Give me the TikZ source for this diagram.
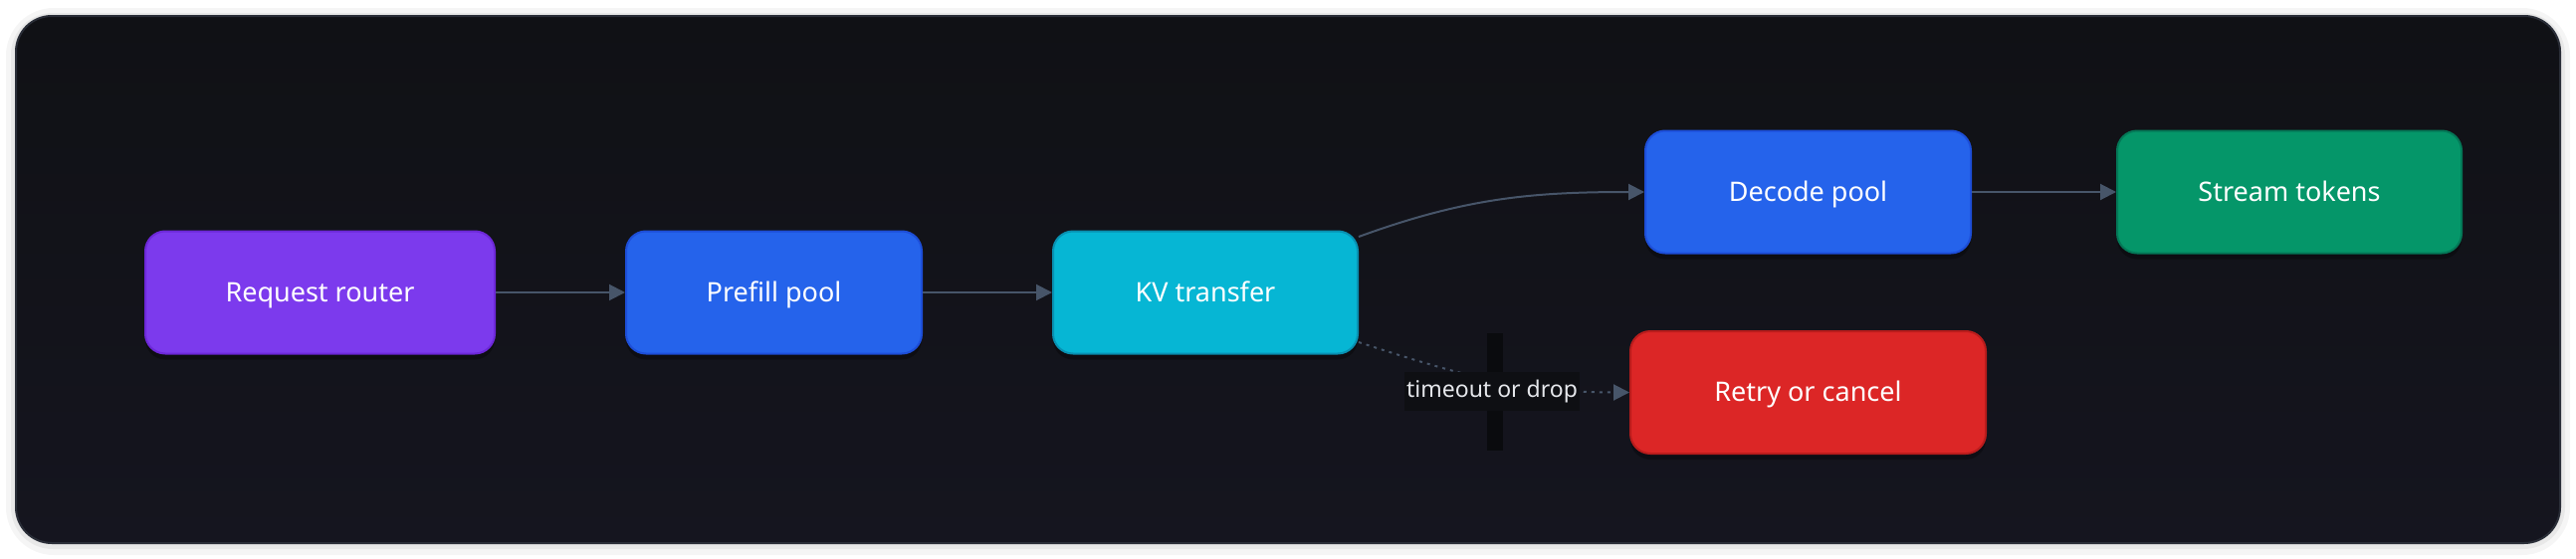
\documentclass[tikz,border=0pt]{standalone}
\usepackage{fontspec}
\setmainfont{Noto Sans}
\usetikzlibrary{arrows.meta,shadows}

\definecolor{routerfill}{HTML}{7C3AED}
\definecolor{routeredge}{HTML}{6D28D9}
\definecolor{poolfill}{HTML}{2563EB}
\definecolor{pooledge}{HTML}{1D4ED8}
\definecolor{kvfill}{HTML}{06B6D4}
\definecolor{kvedge}{HTML}{0891B2}
\definecolor{streamfill}{HTML}{059669}
\definecolor{streamedge}{HTML}{047857}
\definecolor{retryfill}{HTML}{DC2626}
\definecolor{retryedge}{HTML}{B91C1C}
\definecolor{edgegray}{HTML}{475569}
\definecolor{frametop}{HTML}{101115}
\definecolor{framebot}{HTML}{15151F}
\definecolor{frameedge}{HTML}{2A2E38}
\definecolor{lblbg}{HTML}{0E0F13}
\definecolor{lbltext}{HTML}{E5E7EB}
\definecolor{barfill}{HTML}{0A0B0E}

\begin{document}
\begin{tikzpicture}[x=0.5pt,y=-0.5pt,
		box/.style={rounded corners=10pt,line width=1pt,minimum height=61.5pt,text=white,
			font=\fontsize{13.5}{16}\selectfont,text height=1.75ex,text depth=0pt,
			drop shadow={shadow xshift=0pt,shadow yshift=-3pt,opacity=0.3,fill=black}},
		flow/.style={draw=edgegray,line width=1pt,-{Triangle[length=8pt,width=8pt]}},
		fail/.style={flow,dash pattern=on 1.5pt off 2.5pt},
		lbl/.style={fill=lblbg,text=lbltext,inner xsep=1pt,inner ysep=4pt,font=\fontsize{11.5}{13}\selectfont}]
		\useasboundingbox (0,0) rectangle (2588,562);
		\fill[white] (0,0) rectangle (2588,562);
		% soft shadow round the panel
		\fill[black,opacity=0.04,rounded corners=24pt] (6,8) rectangle (2582,558);
		\fill[black,opacity=0.05,rounded corners=21pt] (11,13) rectangle (2577,552);
		\shade[rounded corners=18pt,top color=frametop,bottom color=framebot,draw=frameedge,line width=1pt] (16,16) rectangle (2572,546);
		\fill[barfill] (1494,335) rectangle (1510,453);

		\node[box,fill=routerfill,draw=routeredge,minimum width=175.5pt] (router) at (321.5,294) {Request router};
		\node[box,fill=poolfill,draw=pooledge,minimum width=148.5pt] (prefill) at (777.5,294) {Prefill pool};
		\node[box,fill=kvfill,draw=kvedge,minimum width=153pt] (kv) at (1211,294) {KV transfer};
		\node[box,fill=poolfill,draw=pooledge,minimum width=163.5pt] (decode) at (1816.5,193) {Decode pool};
		\node[box,fill=streamfill,draw=streamedge,minimum width=173pt] (stream) at (2300,193) {Stream tokens};
		\node[box,fill=retryfill,draw=retryedge,minimum width=178.5pt] (retry) at (1816.5,394.5) {Retry or cancel};

		\draw[flow] (router) -- (prefill);
		\draw[flow] (prefill) -- (kv);
		\draw[flow] (kv) to[out=20,in=180] (decode);
		\draw[flow] (decode) -- (stream);
		\draw[fail] (kv) to[out=-18,in=180] node[lbl,yshift=-6pt] (drop) {timeout or drop} (retry);
	\end{tikzpicture}
\end{document}
